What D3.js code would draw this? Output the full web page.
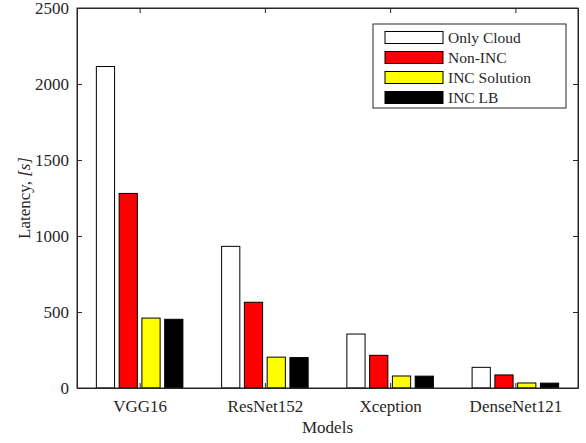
<!DOCTYPE html>
<html>
<head>
<meta charset="utf-8">
<script src="https://cdn.jsdelivr.net/npm/d3@7"></script>
<style>
  html, body { margin: 0; padding: 0; background: #fff; }
  svg { display: block; }
  text { font-family: "Liberation Serif", "Times New Roman", serif; fill: #262626; }
</style>
</head>
<body>
<svg id="chart" width="586" height="443"></svg>
<script>
// Model categories along the x axis
const models = ["VGG16", "ResNet152", "Xception", "DenseNet121"];
// Series names and fill colours
const seriesNames = ["Only Cloud", "Non-INC", "INC Solution", "INC LB"];
const seriesColors = ["#ffffff", "#ff0000", "#ffff00", "#000000"];
// Latency in seconds per model, one array per series
const onlyCloud   = [2115, 932, 355, 136];
const nonInc      = [1280, 564, 215, 86];
const incSolution = [460, 203, 79, 33];
const incLB       = [452, 200, 78, 32];
const yTicks = [0, 500, 1000, 1500, 2000, 2500];

const series = [onlyCloud, nonInc, incSolution, incLB];

const svg = d3.select("#chart");
const axisColor = "#262626";
const serif = '"Liberation Serif", "Times New Roman", serif';
const plotLeft = 77, plotRight = 578, plotTop = 8, plotBottom = 388;

// Category axis: positions 1..4 with half a category padding each side
const x = d3.scaleLinear().domain([0.5, models.length + 0.5]).range([plotLeft, plotRight]);
const y = d3.scaleLinear().domain([0, 2500]).range([plotBottom, plotTop]);

// Grouped bar geometry (group width as a fraction of one category)
const nS = series.length;
const groupW = Math.min(0.8, nS / (nS + 1.5));
const slot = groupW / nS;
const barW = slot * 0.8;

const bars = svg.append("g");
series.forEach((vals, si) => {
  bars.selectAll(null)
    .data(vals)
    .enter().append("rect")
    .attr("x", (d, i) => x(i + 1 - groupW / 2 + slot * si + (slot - barW) / 2))
    .attr("width", x(barW) - x(0))
    .attr("y", d => y(d))
    .attr("height", d => y(0) - y(d))
    .attr("fill", seriesColors[si])
    .attr("stroke", "#000")
    .attr("stroke-width", 1);
});

// Box and inward ticks
const frame = svg.append("g").attr("stroke", axisColor).attr("fill", "none").attr("stroke-width", 1);
frame.append("rect").attr("x", plotLeft).attr("y", plotTop)
  .attr("width", plotRight - plotLeft).attr("height", plotBottom - plotTop);

function styleAxis(g) {
  g.attr("font-family", serif).attr("font-size", 17);
  g.selectAll("path,line").attr("stroke", axisColor);
  g.selectAll(".tick text").attr("fill", axisColor);
}

const yAxisL = d3.axisLeft(y).tickValues(yTicks).tickFormat(d3.format("d"))
  .tickSizeInner(-5).tickSizeOuter(0).tickPadding(8);
svg.append("g").attr("transform", `translate(${plotLeft},0)`).call(yAxisL).call(styleAxis);

const yAxisR = d3.axisRight(y).tickValues(yTicks).tickSizeInner(-5).tickSizeOuter(0).tickFormat("");
svg.append("g").attr("transform", `translate(${plotRight},0)`).call(yAxisR).call(styleAxis);

const xAxisB = d3.axisBottom(x).tickValues(d3.range(1, models.length + 1))
  .tickFormat(i => models[i - 1]).tickSizeInner(-5).tickSizeOuter(0).tickPadding(12);
svg.append("g").attr("transform", `translate(0,${plotBottom})`).call(xAxisB).call(styleAxis);

const xAxisT = d3.axisTop(x).tickValues(d3.range(1, models.length + 1))
  .tickSizeInner(-5).tickSizeOuter(0).tickFormat("");
svg.append("g").attr("transform", `translate(0,${plotTop})`).call(xAxisT).call(styleAxis);

// Axis titles
svg.append("text")
  .attr("x", (plotLeft + plotRight) / 2).attr("y", 433)
  .attr("text-anchor", "middle").style("font-size", "17px")
  .text("Models");

const yl = svg.append("text")
  .attr("transform", `translate(30,${(plotTop + plotBottom) / 2}) rotate(-90)`)
  .attr("text-anchor", "middle").style("font-size", "17px");
yl.append("tspan").text("Latency, ");
yl.append("tspan").style("font-style", "italic").text("[s]");

// Legend
const lg = svg.append("g");
lg.append("rect").attr("x", 373).attr("y", 24).attr("width", 193).attr("height", 84)
  .attr("fill", "#fff").attr("stroke", axisColor).attr("stroke-width", 1);
seriesNames.forEach((name, i) => {
  const cy = 37.5 + i * 20;
  lg.append("rect").attr("x", 385).attr("y", cy - 6).attr("width", 58).attr("height", 12)
    .attr("fill", seriesColors[i]).attr("stroke", "#000").attr("stroke-width", 1);
  lg.append("text").attr("x", 448).attr("y", cy).attr("dy", "0.35em")
    .style("font-size", "15.5px").attr("fill", "#000").text(name);
});
</script>
</body>
</html>
